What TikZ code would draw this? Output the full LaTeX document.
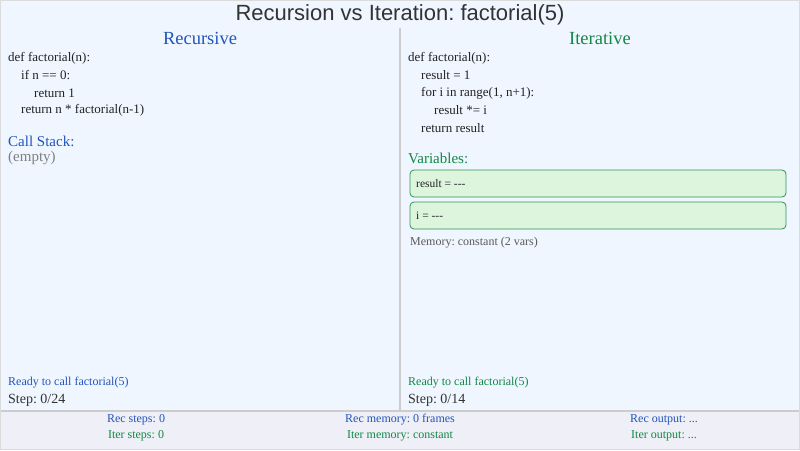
\documentclass[tikz,border=0pt]{standalone}
\usepackage{fontspec}
\setmainfont[Ligatures=NoCommon]{Liberation Serif}
\newfontfamily\titlefont{Liberation Sans}
\frenchspacing
\definecolor{bgmain}{HTML}{EFF6FF}
\definecolor{bgbar}{HTML}{EFEFF8}
\definecolor{recblue}{HTML}{2255BB}
\definecolor{itgreen}{HTML}{118844}
\definecolor{boxfill}{HTML}{DDF4DD}
\definecolor{boxline}{HTML}{2E9455}
\definecolor{divgray}{HTML}{CCCCCC}
\definecolor{txt}{HTML}{222222}
\begin{document}
\begin{tikzpicture}[x=1pt,y=-1pt,
  lbl/.style={inner sep=0pt,anchor=west},
  code/.style={lbl,font=\fontsize{13}{15}\selectfont,text=txt},
  head/.style={inner sep=0pt,font=\fontsize{18.5}{20}\selectfont},
  sect/.style={lbl,font=\fontsize{15}{17}\selectfont},
  small/.style={inner sep=0pt,font=\fontsize{12}{14}\selectfont},
  stepl/.style={lbl,font=\fontsize{14}{16}\selectfont,text=black!80},
  varbox/.style={draw=boxline,line width=0.8pt,fill=boxfill,rounded corners=4pt}]
\useasboundingbox (0,0) rectangle (800,450);
\fill[bgmain] (0,0) rectangle (800,411);
\fill[bgbar] (0,411) rectangle (800,450);
\draw[divgray,line width=1.5pt] (0,411) -- (800,411);
\draw[divgray!70,line width=0.8pt] (0.4,0.4) rectangle (799.6,449.6);
\draw[divgray,line width=1.5pt] (400,28) -- (400,411);
% title
\node[inner sep=0pt,font=\titlefont\fontsize{22}{24}\selectfont,text=black!80] (title) at (400,15) {Recursion vs Iteration: factorial(5)};
% left panel
\node[head,text=recblue] (rech) at (200,38) {Recursive};
\node[code] (r1) at (8,58) {def factorial(n):};
\node[code] (r2) at (21,75.5) {if n == 0:};
\node[code] (r3) at (34,93) {return 1};
\node[code] (r4) at (21,110.5) {return n * factorial(n-1)};
\node[sect,text=recblue] (cs) at (8,141) {Call Stack:};
\node[lbl,font=\fontsize{15}{17}\selectfont,text=black!50] (empty) at (8,158) {(empty)};
\node[small,lbl,text=recblue] (rready) at (8,383) {Ready to call factorial(5)};
\node[stepl] (rstep) at (8,400) {Step: 0/24};
% right panel
\node[head,text=itgreen] (ith) at (600,38) {Iterative};
\node[code] (i1) at (408,58) {def factorial(n):};
\node[code] (i2) at (421,75.5) {result = 1};
\node[code] (i3) at (421,93) {for i in range(1, n+1):};
\node[code] (i4) at (434,110.5) {result *= i};
\node[code] (i5) at (421,128) {return result};
\node[sect,text=itgreen] (vars) at (408,158) {Variables:};
\draw[varbox] (410,170) rectangle (786,197);
\node[lbl,font=\fontsize{11.5}{13}\selectfont,text=txt] (vres) at (416,183.5) {result = -{}-{}-};
\draw[varbox] (410,202) rectangle (786,229);
\node[lbl,font=\fontsize{11.5}{13}\selectfont,text=txt] (vi) at (416,215.5) {i = -{}-{}-};
\node[lbl,font=\fontsize{12}{14}\selectfont,text=black!65] (mem) at (410,243) {Memory: constant (2 vars)};
\node[small,lbl,text=itgreen] (iready) at (408,383) {Ready to call factorial(5)};
\node[stepl] (istep) at (408,400) {Step: 0/14};
% bottom bar
\node[small,text=recblue] (b1) at (136,420) {Rec steps: 0};
\node[small,text=itgreen] (b2) at (136,436) {Iter steps: 0};
\node[small,text=recblue] (b3) at (400,420) {Rec memory: 0 frames};
\node[small,text=itgreen] (b4) at (400,436) {Iter memory: constant};
\node[small,text=recblue] (b5) at (664,420) {Rec output: ...};
\node[small,text=itgreen] (b6) at (664,436) {Iter output: ...};
\end{tikzpicture}
\end{document}
